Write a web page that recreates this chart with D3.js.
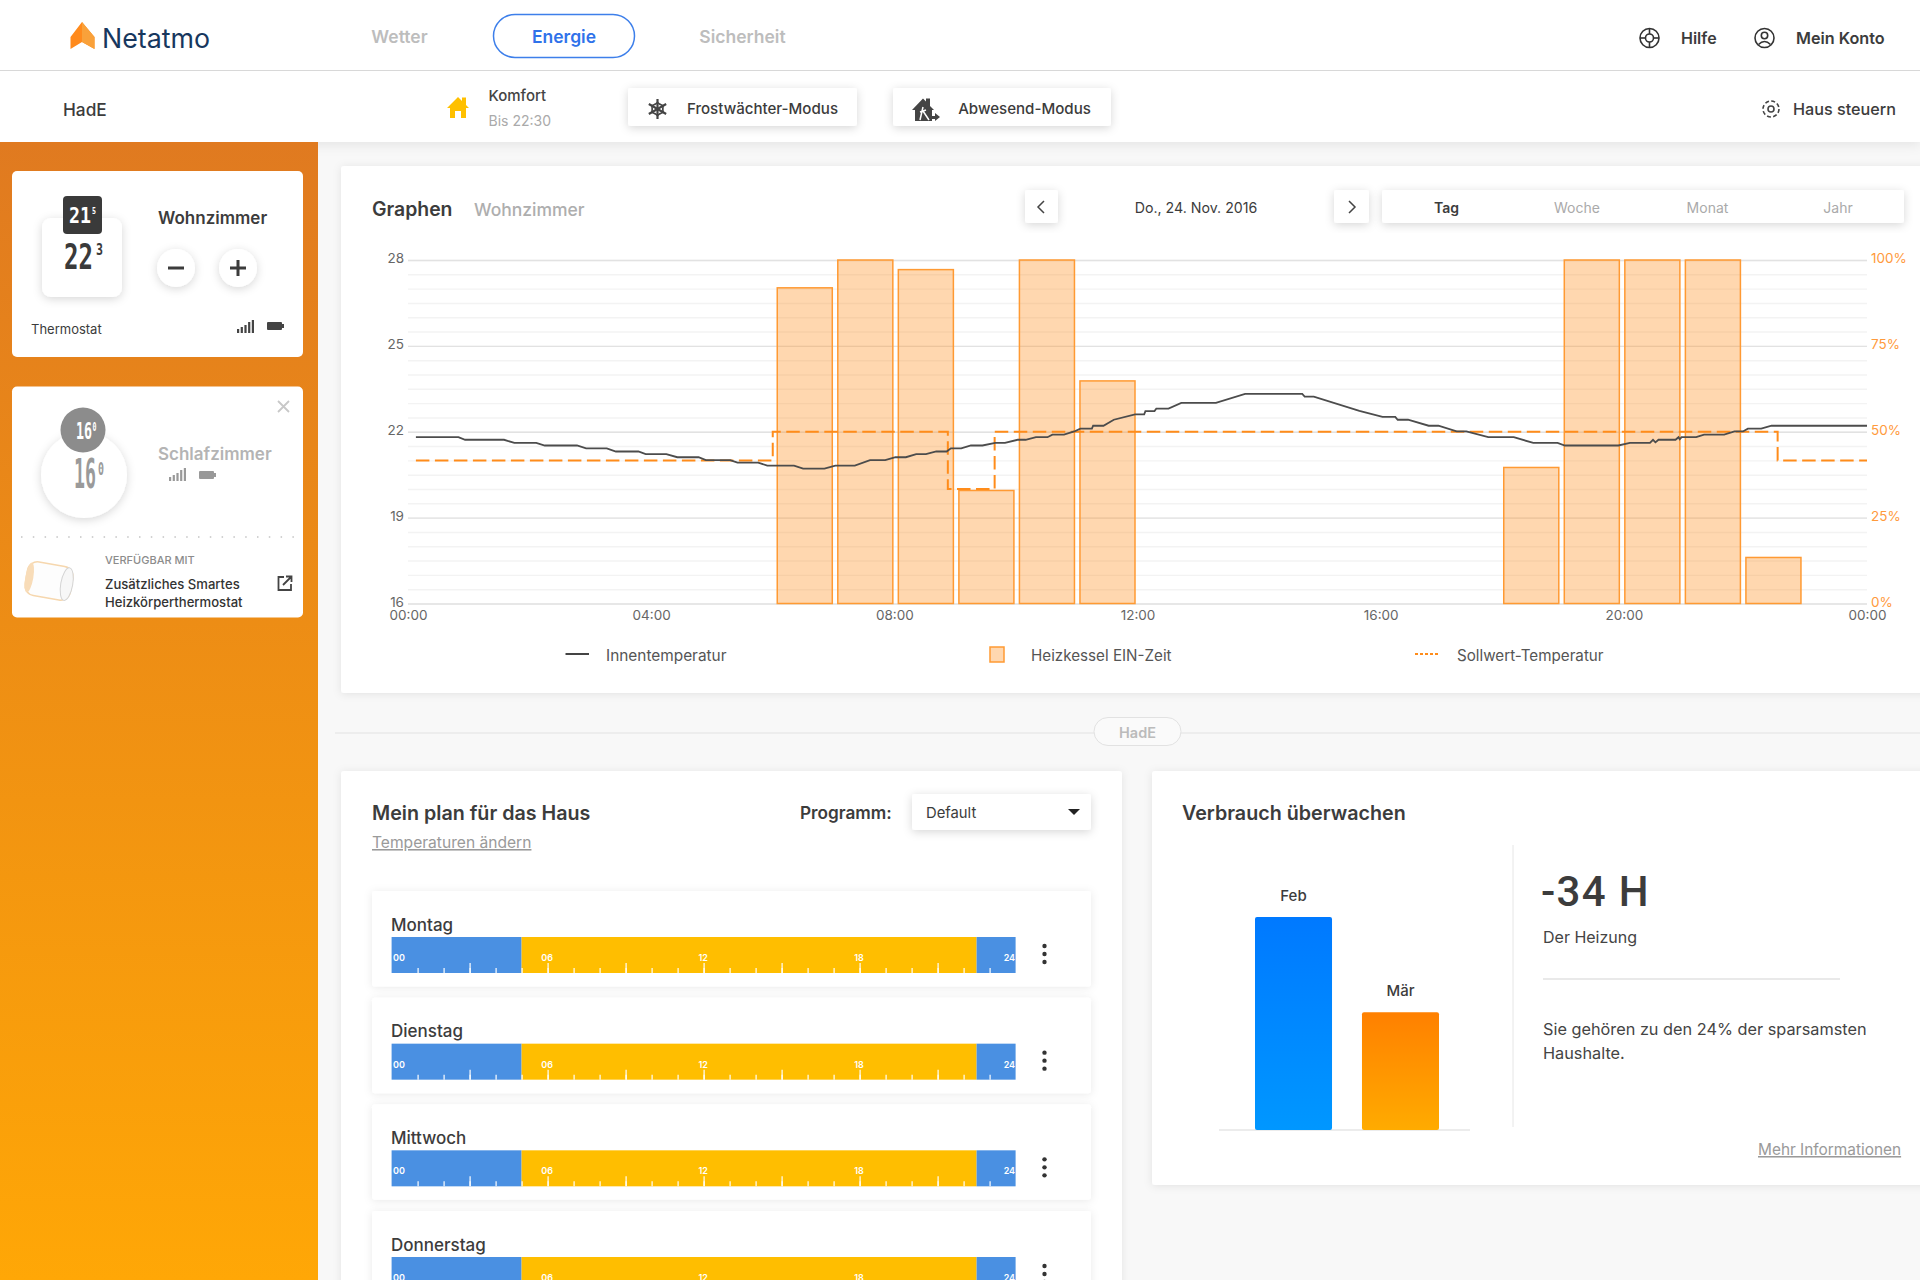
<!DOCTYPE html>
<html lang="de">
<head>
<meta charset="utf-8">
<title>Netatmo Energie</title>
<script src="https://cdn.jsdelivr.net/npm/d3@7"></script>
<style>
  html, body { margin: 0; padding: 0; background: #f8f8f8; overflow: hidden; }
  svg { display: block; font-family: Inter, Lato, sans-serif; }
  text { fill: #3c3c3c; }
</style>
</head>
<body>
<div id="app"></div>
<script>
// Heating chart data
const heatingHours = [6, 7, 8, 9, 10, 11, 18, 19, 20, 21, 22]
const heatingPercent = [91.9, 100, 97.2, 32.9, 100, 64.8, 39.6, 100, 100, 100, 13.4]

const setpointHours = [0.13, 6, 8.88, 9.65, 22.53, 24]
const setpointTemps = [21, 22, 20, 22, 21, 21]

const indoorHours = [0.13, 0.83, 0.94, 1.58, 1.75, 2.11, 2.25, 2.78, 2.93, 3.27, 3.42, 3.79, 3.91, 4.25, 4.43, 4.78, 4.9, 5.3, 5.42, 5.76, 5.91, 6.35, 6.5, 6.85, 7.03, 7.35, 7.6, 7.85, 8.02, 8.19, 8.36, 8.52, 8.69, 8.86, 8.93, 9.1, 9.26, 9.45, 9.66, 9.82, 10.03, 10.16, 10.33, 10.52, 10.6, 10.79, 10.96, 11.06, 11.25, 11.27, 11.44, 11.61, 11.96, 12.11, 12.13, 12.28, 12.31, 12.51, 12.72, 13.29, 13.77, 14.71, 14.75, 14.9, 15.65, 16.03, 16.24, 16.28, 16.45, 16.79, 16.95, 17.25, 17.41, 17.77, 18.19, 18.51, 18.91, 19.03, 19.91, 20.1, 20.43, 20.48, 20.52, 20.57, 20.85, 20.9, 20.92, 20.95, 21.19, 21.32, 21.65, 21.82, 21.96, 22.04, 22.26, 22.43, 24]
const indoorTemps = [21.81, 21.81, 21.72, 21.72, 21.61, 21.61, 21.52, 21.52, 21.42, 21.42, 21.31, 21.31, 21.22, 21.22, 21.11, 21.11, 21.01, 21.01, 20.92, 20.92, 20.82, 20.82, 20.71, 20.71, 20.82, 20.82, 21.01, 21.01, 21.11, 21.11, 21.22, 21.22, 21.31, 21.31, 21.42, 21.42, 21.52, 21.52, 21.61, 21.61, 21.72, 21.72, 21.81, 21.81, 21.9, 21.9, 22.01, 22.11, 22.11, 22.21, 22.21, 22.42, 22.61, 22.61, 22.72, 22.72, 22.81, 22.81, 23.01, 23.01, 23.32, 23.32, 23.23, 23.23, 22.73, 22.52, 22.52, 22.42, 22.42, 22.21, 22.21, 22.01, 22.01, 21.81, 21.81, 21.61, 21.61, 21.52, 21.52, 21.61, 21.61, 21.72, 21.63, 21.72, 21.72, 21.81, 21.74, 21.81, 21.81, 21.9, 21.9, 22.01, 22.01, 22.11, 22.11, 22.21, 22.21]

const tempTicks = [16, 19, 22, 25, 28]
const percentTicks = [0, 25, 50, 75, 100]
const hourTicks = [0, 4, 8, 12, 16, 20, 24]
const legendLabels = ["Innentemperatur", "Heizkessel EIN-Zeit", "Sollwert-Temperatur"]
const rangeTabs = ["Tag", "Woche", "Monat", "Jahr"]

// Weekly plan
const weekDays = ["Montag", "Dienstag", "Mittwoch", "Donnerstag"]
const zoneStarts = [0, 5, 22.5]
const zoneEnds = [5, 22.5, 24]
const zoneNames = ["nacht", "komfort", "nacht"]
const scheduleLabels = [0, 6, 12, 18, 24]

// Consumption (hours of heating)
const monthLabels = ["Feb", "Mär"]
const monthHours = [76, 42]

const orange = "#ff8c1a"
const zoneColor = { nacht: "#4a90e2", komfort: "#ffbe00" }
const uiFont = "Inter, Lato, sans-serif"
const digitFont = "DejaVu Sans Mono"

const svg = d3.select("#app").append("svg")
  .attr("width", 1920)
  .attr("height", 1280)
  .attr("viewBox", "0 0 1920 1280")

const defs = svg.append("defs")

function addShadow(id, dy, blur, opacity) {
  defs.append("filter")
    .attr("id", id)
    .attr("x", "-30%").attr("y", "-30%").attr("width", "160%").attr("height", "160%")
    .append("feDropShadow")
    .attr("dx", 0).attr("dy", dy)
    .attr("stdDeviation", blur)
    .attr("flood-color", "#000")
    .attr("flood-opacity", opacity)
}
addShadow("card", 1, 4, 0.09)
addShadow("soft", 2, 5, 0.16)
addShadow("bar", 3, 6, 0.08)

function addGradient(id, top, bottom) {
  const g = defs.append("linearGradient")
    .attr("id", id)
    .attr("x1", 0).attr("y1", 0).attr("x2", 0).attr("y2", 1)
  g.append("stop").attr("offset", "0%").attr("stop-color", top)
  g.append("stop").attr("offset", "100%").attr("stop-color", bottom)
}
addGradient("sidebar", "#e07a20", "#ffa706")
addGradient("febBar", "#0079ff", "#0097ff")
addGradient("marBar", "#ff8000", "#ffab00")

function label(parent, x, y, str, size, opts = {}) {
  return parent.append("text")
    .attr("x", x)
    .attr("y", y)
    .attr("font-size", size)
    .attr("font-weight", opts.weight || 400)
    .attr("text-anchor", opts.anchor || "start")
    .style("fill", opts.fill || "#3c3c3c")
    .style("font-family", opts.family || null)
    .text(str)
}

// Thermostat display digits, squeezed to the box the device shows them in
function digits(parent, x, y, str, size, width, color) {
  const t = label(parent, 0, 0, str, size, { weight: 700, fill: color, family: digitFont })
  const natural = t.node().getComputedTextLength()
  return t.attr("transform", `translate(${x},${y}) scale(${width / natural},1)`)
}

function box(parent, x, y, w, h, opts = {}) {
  return parent.append("rect")
    .attr("x", x).attr("y", y)
    .attr("width", w).attr("height", h)
    .attr("rx", opts.rx === undefined ? 3 : opts.rx)
    .attr("fill", opts.fill || "#fff")
    .attr("filter", opts.shadow ? `url(#${opts.shadow})` : null)
}

function signalIcon(parent, x, y, color) {
  const steps = [4, 6, 8, 11, 13]
  steps.forEach((h, i) => {
    parent.append("rect")
      .attr("x", x + i * 3.7).attr("y", y + 13 - h)
      .attr("width", 2.2).attr("height", h)
      .attr("fill", color)
  })
}

function batteryIcon(parent, x, y, color) {
  parent.append("rect").attr("x", x).attr("y", y).attr("width", 15).attr("height", 8).attr("rx", 1).attr("fill", color)
  parent.append("rect").attr("x", x + 15).attr("y", y + 2).attr("width", 2).attr("height", 4).attr("fill", color)
}

drawHeader()
drawSidebar()
drawGraphCard()
drawDivider()
drawPlanCard()
drawConsumptionCard()

function drawHeader() {
  box(svg, 0, 71, 1920, 71, { rx: 0, shadow: "bar" })
  box(svg, 0, 0, 1920, 70, { rx: 0 })
  svg.append("line").attr("x1", 0).attr("x2", 1920).attr("y1", 70.5).attr("y2", 70.5).attr("stroke", "#d8d8d8")

  // logo
  svg.append("path").attr("d", "M70.5 37 L82 22 L94.5 37 V49 L82 42 L70.5 49 Z").attr("fill", "#ff8a1c")
  svg.append("path").attr("d", "M82 22 L94.5 37 V49 L82 42 Z").attr("fill", "#f9a13a")
  label(svg, 102, 47.5, "Netatmo", 26.8, { fill: "#17375e" })

  label(svg, 399.5, 42.5, "Wetter", 17.5, { weight: 600, anchor: "middle", fill: "#bdbdbd" })
  svg.append("rect")
    .attr("x", 493.5).attr("y", 14.5).attr("width", 141).attr("height", 43).attr("rx", 21.5)
    .attr("fill", "#fff").attr("stroke", "#3d7fea").attr("stroke-width", 1.5)
  label(svg, 564, 42.5, "Energie", 17.5, { weight: 600, anchor: "middle", fill: "#2f72ea" })
  label(svg, 742.5, 42.5, "Sicherheit", 17.5, { weight: 600, anchor: "middle", fill: "#bdbdbd" })

  // help and account
  const help = svg.append("g").attr("fill", "none").attr("stroke", "#333").attr("stroke-width", 1.6)
  help.append("circle").attr("cx", 1649.5).attr("cy", 38).attr("r", 9.5)
  help.append("circle").attr("cx", 1649.5).attr("cy", 38).attr("r", 4)
  d3.range(4).forEach(i => {
    const a = i * Math.PI / 2
    help.append("line")
      .attr("x1", 1649.5 + 4 * Math.cos(a)).attr("y1", 38 + 4 * Math.sin(a))
      .attr("x2", 1649.5 + 9.5 * Math.cos(a)).attr("y2", 38 + 9.5 * Math.sin(a))
  })
  label(svg, 1681, 43.5, "Hilfe", 16, { weight: 600 })
  const acct = svg.append("g").attr("fill", "none").attr("stroke", "#333").attr("stroke-width", 1.6)
  acct.append("circle").attr("cx", 1764.5).attr("cy", 38).attr("r", 9.5)
  acct.append("circle").attr("cx", 1764.5).attr("cy", 35.5).attr("r", 3.2)
  acct.append("path").attr("d", "M1758.5 44.5 Q1764.5 38.5 1770.5 44.5")
  label(svg, 1796, 43.5, "Mein Konto", 16.2, { weight: 600 })

  // second row
  label(svg, 63, 116, "HadE", 17.3, { weight: 500 })
  svg.append("path")
    .attr("d", "M447 108 L458 97 L462 101 V97.5 H466 V105 L469 108 H466 V118 H461 V111 H455 V118 H450 V108 Z")
    .attr("fill", "#ffc000")
  label(svg, 488.5, 101, "Komfort", 15, { weight: 500, fill: "#444" })
  label(svg, 488.5, 126, "Bis 22:30", 14, { fill: "#aaa" })

  box(svg, 628, 88, 229, 38, { shadow: "soft" })
  const flake = svg.append("g").attr("stroke", "#444").attr("stroke-width", 2.2).attr("fill", "none")
  d3.range(6).forEach(i => {
    const a = i * Math.PI / 3 + Math.PI / 2
    const ex = 657.5 + 10 * Math.cos(a)
    const ey = 109 + 10 * Math.sin(a)
    const mx = 657.5 + 6.5 * Math.cos(a)
    const my = 109 + 6.5 * Math.sin(a)
    flake.append("line").attr("x1", 657.5).attr("y1", 109).attr("x2", ex).attr("y2", ey)
    flake.append("path").attr("stroke-width", 1.6)
      .attr("d", `M${mx + 3.5 * Math.cos(a + 2.2)} ${my + 3.5 * Math.sin(a + 2.2)} L${mx} ${my} L${mx + 3.5 * Math.cos(a - 2.2)} ${my + 3.5 * Math.sin(a - 2.2)}`)
  })
  label(svg, 762.5, 114, "Frostwächter-Modus", 15.1, { weight: 500, anchor: "middle", fill: "#3c3c3c" })

  box(svg, 893, 88, 218, 38, { shadow: "soft" })
  svg.append("path")
    .attr("d", "M912 110 L923 98.5 L926 101.5 V98.5 H930 V106 L934 110 H932 V121 H915 V110 Z")
    .attr("fill", "#444")
  svg.append("path").attr("d", "M923 107 L920 120 M923 111 L929 120 M920 112 L926 110")
    .attr("stroke", "#fff").attr("stroke-width", 1.5).attr("fill", "none")
  svg.append("path").attr("d", "M929 116 H935 V113 L940 117 L935 121 V119 H929 Z").attr("fill", "#444")
  label(svg, 1024.5, 114, "Abwesend-Modus", 15.1, { weight: 500, anchor: "middle" })

  const gear = svg.append("g").attr("fill", "none").attr("stroke", "#444").attr("stroke-width", 1.6)
  gear.append("circle").attr("cx", 1771).attr("cy", 109).attr("r", 3)
  gear.append("circle").attr("cx", 1771).attr("cy", 109).attr("r", 8).attr("stroke-dasharray", "4,2.28")
  label(svg, 1793, 115, "Haus steuern", 16.2, { weight: 500 })
}

function drawSidebar() {
  box(svg, 0, 142, 318, 1138, { rx: 0, fill: "url(#sidebar)" })

  // Wohnzimmer card
  box(svg, 12, 171, 291, 186, { rx: 5 })
  box(svg, 42, 218, 80, 79, { rx: 9, shadow: "soft" })
  box(svg, 63, 196, 39, 38, { rx: 4, fill: "#3a3a3a" })
  digits(svg, 69, 223, "21", 20.5, 22, "#fff")
  digits(svg, 92, 214, "5", 9.5, 4, "#fff")
  digits(svg, 64, 269, "22", 36, 29, "#3a3a3a")
  digits(svg, 96, 255, "3", 16, 7, "#3a3a3a")

  label(svg, 158, 224, "Wohnzimmer", 17, { weight: 600 })
  svg.append("circle").attr("cx", 176).attr("cy", 268).attr("r", 19).attr("fill", "#fff").attr("filter", "url(#soft)")
  svg.append("circle").attr("cx", 238).attr("cy", 268).attr("r", 19).attr("fill", "#fff").attr("filter", "url(#soft)")
  svg.append("path").attr("d", "M168 268 H184 M230 268 H246 M238 260 V276").attr("stroke", "#3c3c3c").attr("stroke-width", 3)
  label(svg, 31, 334, "Thermostat", 13)
  signalIcon(svg, 237, 320, "#444")
  batteryIcon(svg, 267, 322, "#444")

  // Schlafzimmer card
  box(svg, 12, 386.5, 291, 231, { rx: 5 })
  svg.append("path").attr("d", "M278 401 L289 412 M289 401 L278 412").attr("stroke", "#c8c8c8").attr("stroke-width", 1.8)
  svg.append("circle").attr("cx", 84).attr("cy", 475).attr("r", 43).attr("fill", "#fff").attr("filter", "url(#soft)")
  svg.append("circle").attr("cx", 83).attr("cy", 430).attr("r", 22.5).attr("fill", "#8c8c8c")
  digits(svg, 76, 439, "16", 23, 16, "#fff")
  digits(svg, 92.5, 431, "0", 11.5, 4, "#fff")
  digits(svg, 74, 488, "16", 41, 22, "#9a9a9a")
  digits(svg, 98, 475, "0", 18, 6, "#9a9a9a")
  label(svg, 158, 460, "Schlafzimmer", 17, { weight: 600, fill: "#b4b4b4" })
  signalIcon(svg, 169, 468, "#999")
  batteryIcon(svg, 199, 471, "#999")
  svg.append("line")
    .attr("x1", 21).attr("x2", 298).attr("y1", 537).attr("y2", 537)
    .attr("stroke", "#c4c4c4").attr("stroke-width", 1.5).attr("stroke-dasharray", "1.5,10.3")

  // valve
  const valve = svg.append("g").attr("transform", "translate(49,581) rotate(10)")
  valve.append("rect").attr("x", -23).attr("y", -17).attr("width", 46).attr("height", 34).attr("rx", 10)
    .attr("fill", "#fdfdfd").attr("stroke", "#f6d7ae").attr("stroke-width", 1.5)
  valve.append("ellipse").attr("cx", -20).attr("cy", 0).attr("rx", 4).attr("ry", 15).attr("fill", "#f8dcb8")
  valve.append("ellipse").attr("cx", 18).attr("cy", 0).attr("rx", 6).attr("ry", 16.5).attr("fill", "#f7f7f7").attr("stroke", "#d4d4d4")

  label(svg, 105, 564, "VERFÜGBAR MIT", 11, { weight: 500, fill: "#8c8c8c" })
  label(svg, 105, 589, "Zusätzliches Smartes", 13.1, { weight: 500, fill: "#333" })
  label(svg, 105, 606.5, "Heizkörperthermostat", 13.1, { weight: 500, fill: "#333" })
  svg.append("path")
    .attr("d", "M284 577 H278.5 V590 H291 V584 M283 585 L291 577 M286 576.5 H291.5 V582")
    .attr("fill", "none").attr("stroke", "#444").attr("stroke-width", 1.8)
}

function drawGraphCard() {
  box(svg, 341, 166, 1600, 527, { shadow: "card" })
  label(svg, 372, 216, "Graphen", 19.4, { weight: 600 })
  label(svg, 474, 216, "Wohnzimmer", 17.5, { weight: 500, fill: "#aeaeae" })

  // date navigation
  box(svg, 1025, 190, 33, 33, { shadow: "soft" })
  svg.append("path").attr("d", "M1044 201 L1038 207 L1044 213").attr("fill", "none").attr("stroke", "#444").attr("stroke-width", 1.5)
  label(svg, 1196, 213, "Do., 24. Nov. 2016", 14.2, { anchor: "middle" })
  box(svg, 1334, 190, 35, 33, { shadow: "soft" })
  svg.append("path").attr("d", "M1349 201 L1355 207 L1349 213").attr("fill", "none").attr("stroke", "#444").attr("stroke-width", 1.5)

  box(svg, 1382, 190, 522, 33, { shadow: "soft" })
  const tabX = d3.scalePoint().domain(rangeTabs).range([1446.5, 1838])
  rangeTabs.forEach((t, i) => {
    label(svg, tabX(t), 213, t, 14, {
      anchor: "middle",
      weight: i === 0 ? 600 : 400,
      fill: i === 0 ? "#3c3c3c" : "#aaa"
    })
  })

  // scales
  const x = d3.scaleLinear().domain([0, 24]).range([408, 1867])
  // hourly boiler bars are laid out from where the data starts, not from the axis origin
  const xBar = d3.scaleLinear().domain([0, 24]).range([414, 1867])
  const yTemp = d3.scaleLinear().domain([16, 28]).range([603.5, 260])
  const yPct = d3.scaleLinear().domain([0, 100]).range([603.5, 260])

  const chart = svg.append("g")

  // Grid lines
  chart.append("g")
    .attr("transform", "translate(408,0)")
    .call(d3.axisLeft(yTemp).tickValues(d3.range(16, 28.5, 0.5)).tickSize(-1459).tickFormat(""))
    .call(g => g.select(".domain").remove())
    .selectAll("line").attr("stroke", "#f3f3f3").attr("stroke-width", 1.4)
  chart.append("g")
    .attr("transform", "translate(408,0)")
    .call(d3.axisLeft(yTemp).tickValues(tempTicks).tickSize(-1459).tickFormat(""))
    .call(g => g.select(".domain").remove())
    .selectAll("line").attr("stroke", "#e2e2e2").attr("stroke-width", 1.4)

  // Boiler bars
  chart.append("g").selectAll("rect")
    .data(d3.zip(heatingHours, heatingPercent))
    .join("rect")
    .attr("x", d => xBar(d[0]))
    .attr("width", d => xBar(d[0] + 1) - xBar(d[0]) - 5.5)
    .attr("y", d => yPct(d[1]))
    .attr("height", d => yPct(0) - yPct(d[1]))
    .attr("fill", orange)
    .attr("fill-opacity", 0.35)
    .attr("stroke", "#ff9a33")
    .attr("stroke-width", 1.5)

  // Setpoint and indoor lines
  const stepLine = d3.line()
    .x(d => x(d[0]))
    .y(d => yTemp(d[1]))
    .curve(d3.curveStepAfter)
  chart.append("path")
    .datum(d3.zip(setpointHours, setpointTemps))
    .attr("fill", "none")
    .attr("stroke", orange)
    .attr("stroke-width", 2)
    .attr("stroke-dasharray", "13.5,5.5")
    .attr("d", stepLine)

  const tempLine = d3.line()
    .x(d => x(d[0]))
    .y(d => yTemp(d[1]))
  chart.append("path")
    .datum(d3.zip(indoorHours, indoorTemps))
    .attr("fill", "none")
    .attr("stroke", "#4c4c4c")
    .attr("stroke-width", 1.8)
    .attr("d", tempLine)

  // Axes
  const styleAxis = (g, color) => {
    g.select(".domain").remove()
    g.selectAll("line").remove()
    g.selectAll("text").attr("font-size", 13.5).attr("font-family", uiFont).style("fill", color)
  }
  chart.append("g")
    .attr("transform", "translate(404,-1.5)")
    .call(d3.axisLeft(yTemp).tickValues(tempTicks).tickSize(0).tickPadding(0))
    .call(styleAxis, "#666")
  chart.append("g")
    .attr("transform", "translate(1871,-1.5)")
    .call(d3.axisRight(yPct).tickValues(percentTicks).tickSize(0).tickPadding(0).tickFormat(d => `${d}%`))
    .call(styleAxis, "#ff9a3c")
  chart.append("g")
    .attr("transform", "translate(0,610)")
    .call(d3.axisBottom(x).tickValues(hourTicks).tickSize(0).tickPadding(0)
      .tickFormat(d => `${String(d % 24).padStart(2, "0")}:00`))
    .call(styleAxis, "#666")

  // Legend
  svg.append("line").attr("x1", 565.5).attr("x2", 589).attr("y1", 654).attr("y2", 654).attr("stroke", "#444").attr("stroke-width", 2)
  label(svg, 606, 661, legendLabels[0], 15.4, { fill: "#555" })
  svg.append("rect").attr("x", 990).attr("y", 647).attr("width", 14).attr("height", 15)
    .attr("fill", orange).attr("fill-opacity", 0.35).attr("stroke", "#ff9a33").attr("stroke-width", 1.5)
  label(svg, 1031, 661, legendLabels[1], 15.2, { fill: "#555" })
  svg.append("line").attr("x1", 1415).attr("x2", 1439).attr("y1", 654).attr("y2", 654)
    .attr("stroke", orange).attr("stroke-width", 2).attr("stroke-dasharray", "3,2")
  label(svg, 1457, 661, legendLabels[2], 15.2, { fill: "#555" })
}

function drawDivider() {
  svg.append("line").attr("x1", 335).attr("x2", 1920).attr("y1", 733).attr("y2", 733).attr("stroke", "#e2e2e2")
  svg.append("rect").attr("x", 1094).attr("y", 717.5).attr("width", 87).attr("height", 28).attr("rx", 14)
    .attr("fill", "#fafafa").attr("stroke", "#e2e2e2")
  label(svg, 1137.5, 738, "HadE", 14.5, { anchor: "middle", weight: 600, fill: "#bbb" })
}

function drawPlanCard() {
  box(svg, 341, 771, 781, 520, { shadow: "card" })
  label(svg, 372, 820, "Mein plan für das Haus", 19.7, { weight: 600 })
  label(svg, 800, 819, "Programm:", 17.2, { weight: 600 })
  box(svg, 912, 794, 179, 36, { shadow: "soft" })
  label(svg, 926, 818, "Default", 14.8)
  svg.append("path").attr("d", "M1068 809 H1080 L1074 815 Z").attr("fill", "#222")
  label(svg, 372, 848, "Temperaturen ändern", 15.6, { fill: "#9a9a9a" }).attr("text-decoration", "underline")

  const xSched = d3.scaleLinear().domain([0, 24]).range([391.6, 1015.6])
  const rowY = d3.scalePoint().domain(weekDays).range([891, 1211])

  weekDays.forEach(day => {
    const top = rowY(day)
    const row = svg.append("g")
    box(row, 372, top, 719, 95.5, { shadow: "card" })
    label(row, 391, top + 39.5, day, 17, { weight: 500 })

    const barTop = top + 46
    row.append("g").selectAll("rect")
      .data(d3.zip(zoneStarts, zoneEnds, zoneNames))
      .join("rect")
      .attr("x", d => xSched(d[0]))
      .attr("width", d => xSched(d[1]) - xSched(d[0]))
      .attr("y", barTop)
      .attr("height", 36)
      .attr("fill", d => zoneColor[d[2]])

    const barAxis = row.append("g").attr("transform", `translate(0,${barTop + 36})`)
    barAxis.call(d3.axisTop(xSched).tickValues(d3.range(1, 24)).tickSize(5).tickFormat(""))
    barAxis.append("g")
      .call(d3.axisTop(xSched).tickValues(d3.range(3, 24, 3)).tickSize(10).tickFormat(""))
    barAxis.selectAll(".domain").remove()
    barAxis.selectAll("line").attr("stroke", "#fff").attr("stroke-width", 1.2)

    const labelAxis = row.append("g").attr("transform", `translate(0,${barTop + 24})`)
    labelAxis.call(d3.axisTop(xSched).tickValues(scheduleLabels).tickSize(0).tickPadding(0)
      .tickFormat(d => String(d).padStart(2, "0")))
    labelAxis.select(".domain").remove()
    labelAxis.selectAll("text")
      .attr("font-size", 9)
      .attr("font-weight", 600)
      .attr("font-family", uiFont)
      .style("fill", "#fff")
      .attr("text-anchor", d => d === 0 ? "start" : d === 24 ? "end" : "middle")
      .attr("dx", d => d === 0 ? 1 : -1)

    row.selectAll("circle.dot")
      .data([9, 17, 25])
      .join("circle")
      .attr("class", "dot")
      .attr("cx", 1044.5)
      .attr("cy", d => top + 46 + d)
      .attr("r", 2.2)
      .attr("fill", "#333")
  })
}

function drawConsumptionCard() {
  box(svg, 1152, 771, 790, 414, { shadow: "card" })
  label(svg, 1182, 820, "Verbrauch überwachen", 19.7, { weight: 600 })

  const xMonth = d3.scaleBand().domain(monthLabels).range([1255, 1439]).paddingInner(0.28).paddingOuter(0)
  const yHours = d3.scaleLinear().domain([0, 76]).range([1130, 917])
  const fills = ["url(#febBar)", "url(#marBar)"]

  svg.append("line").attr("x1", 1219).attr("x2", 1470).attr("y1", 1130).attr("y2", 1130).attr("stroke", "#e6e6e6").attr("stroke-width", 1.5)

  svg.append("g").selectAll("rect")
    .data(d3.zip(monthLabels, monthHours))
    .join("rect")
    .attr("x", d => xMonth(d[0]))
    .attr("y", d => yHours(d[1]))
    .attr("width", xMonth.bandwidth())
    .attr("height", d => yHours(0) - yHours(d[1]))
    .attr("rx", 2)
    .attr("fill", (d, i) => fills[i])

  d3.zip(monthLabels, monthHours).forEach(d => {
    label(svg, xMonth(d[0]) + xMonth.bandwidth() / 2, yHours(d[1]) - 16, d[0], 15, { anchor: "middle", weight: 500 })
  })

  svg.append("line").attr("x1", 1513).attr("x2", 1513).attr("y1", 845).attr("y2", 1127).attr("stroke", "#e6e6e6")
  label(svg, 1541, 906, "-34 H", 42, { weight: 500, family: "Roboto, Lato, sans-serif" }).attr("letter-spacing", 1.3)
  label(svg, 1543, 943, "Der Heizung", 16, { fill: "#444" })
  svg.append("line").attr("x1", 1543).attr("x2", 1840).attr("y1", 979).attr("y2", 979).attr("stroke", "#e2e2e2").attr("stroke-width", 1.5)
  label(svg, 1543, 1035, "Sie gehören zu den 24% der sparsamsten", 16.3, { fill: "#444" })
  label(svg, 1543, 1059, "Haushalte.", 16.3, { fill: "#444" })
  label(svg, 1758, 1155, "Mehr Informationen", 15.4, { fill: "#9a9a9a" }).attr("text-decoration", "underline")
}
</script>
</body>
</html>
